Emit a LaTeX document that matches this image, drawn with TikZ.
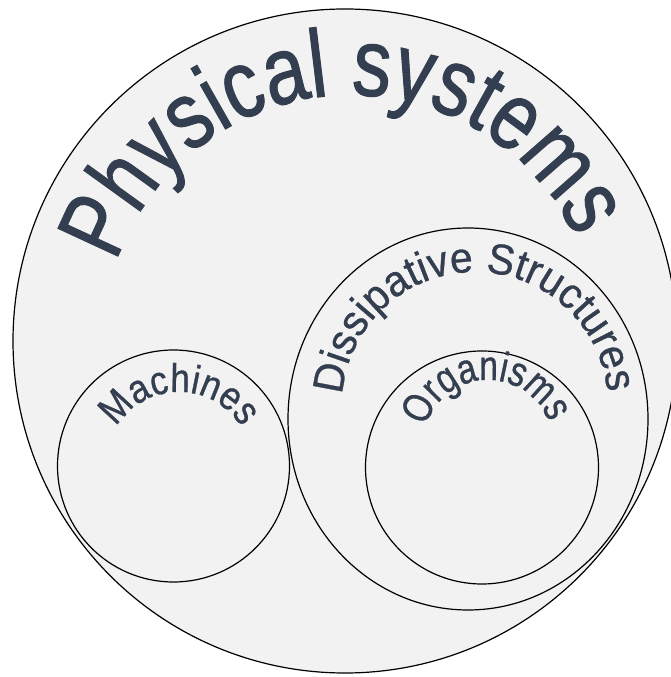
\documentclass[tikz,border=0pt]{standalone}
\usepackage{fontspec}
\usetikzlibrary{decorations.text,shapes.geometric,calc}
\newfontfamily\physfont[FakeStretch=0.80,FakeBold=1]{Liberation Sans}
\newfontfamily\dissfont[FakeStretch=0.95,FakeBold=0.5]{Liberation Sans}
\newfontfamily\orgfont[FakeStretch=0.80,FakeBold=0.5]{Liberation Sans}
\newfontfamily\machfont[FakeStretch=0.875,FakeBold=0.5]{Liberation Sans}
\newcommand\physstyle{\fontsize{96}{96}\physfont}
\newcommand\dissstyle{\fontsize{43}{43}\dissfont}
\newcommand\orgstyle{\fontsize{42}{42}\orgfont}
\newcommand\machstyle{\fontsize{40}{40}\machfont}
\definecolor{setfill}{HTML}{F2F2F2}
\definecolor{txt}{HTML}{333F50}
\definecolor{shade}{HTML}{606060}
\tikzset{
  setcircle/.style={draw=black, line width=1.2pt, fill=setfill},
  arctext/.style 2 args={decorate, decoration={text along path, text align=center, text color=#1, text={#2}}},
  shadowed/.style={shift={(1.5,-2)}, opacity=0.3}
}
\newcommand\labels[1]{%
  \path[arctext={#1}{|\physstyle|Physical systems}] ($(physc)+(170:248)$) arc[start angle=170, end angle=16, radius=248];
  \path[arctext={#1}{|\dissstyle|Dissipative Structures}] ($(dissc)+(186:133)$) arc[start angle=186, end angle=-5, radius=133];
  \path[arctext={#1}{|\orgstyle|Organisms}] ($(orgc)+(176:65)$) arc[start angle=176, end angle=8, radius=65];
  \path[arctext={#1}{|\machstyle|Machines}] ($(machc)+(174:73)$) arc[start angle=174, end angle=6, radius=73];
}
\begin{document}
\begin{tikzpicture}[x=1pt,y=1pt]
\useasboundingbox (0,0) rectangle (671,677);
% sets
\node[setcircle, circle, minimum size=664pt, inner sep=0pt] (phys) at (345,336) {};
\node[setcircle, ellipse, minimum width=360pt, minimum height=382pt, inner sep=0pt] (diss) at (468,258) {};
\node[setcircle, circle, minimum size=232pt, inner sep=0pt] (mach) at (173.5,211) {};
\node[setcircle, circle, minimum size=233pt, inner sep=0pt] (org) at (482,209.5) {};
% label arcs
\coordinate (physc) at (351,334);
\coordinate (dissc) at (475,272);
\coordinate (orgc) at (488,232);
\coordinate (machc) at (179,212);
\begin{scope}[shadowed]
\labels{shade}
\end{scope}
\labels{txt}
\end{tikzpicture}
\end{document}
